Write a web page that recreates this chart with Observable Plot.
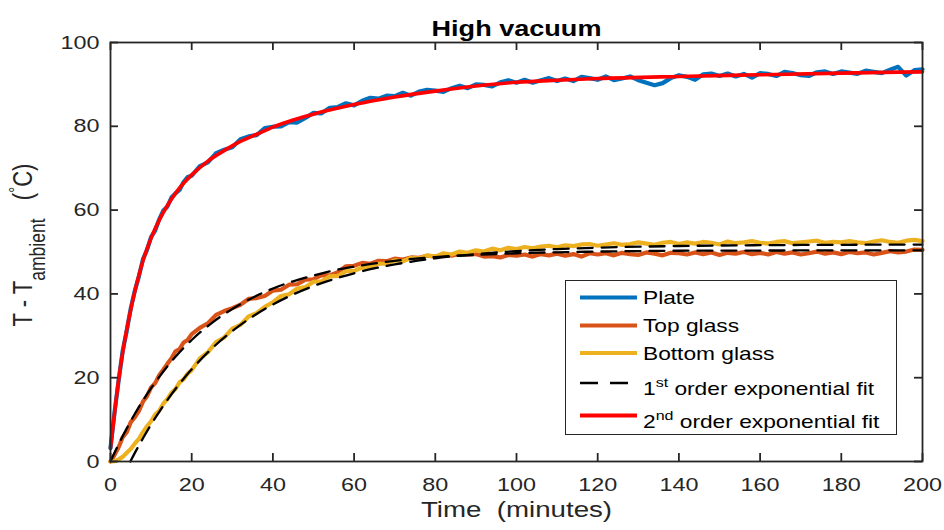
<!DOCTYPE html>
<html><head><meta charset="utf-8">
<script src="https://cdn.jsdelivr.net/npm/d3@7"></script>
<script src="https://cdn.jsdelivr.net/npm/@observablehq/plot@0.6"></script>
<style>body{margin:0;background:#fff;} #chart svg{display:block}</style>
</head><body><div id="chart"></div>
<script>
// ---- data (minutes, T - T_ambient in °C) ----
const time = [0,1,2,3,4,5,6,7,8,9,10,11,12,13,14,15,16,17,18,19,20,
  22,24,26,28,30,32,34,36,38,40,
  42,44,46,48,50,52,54,56,58,60,
  62,64,66,68,70,72,74,76,78,80,
  82,84,86,88,90,92,94,96,98,100,
  102,104,106,108,110,112,114,116,118,120,
  122,124,126,128,130,132,134,136,138,140,
  142,144,146,148,150,152,154,156,158,160,
  162,164,166,168,170,172,174,176,178,180,
  182,184,186,188,190,192,194,196,198,200];

const plate = [3.2,11.8,19.3,26.4,31.2,36.6,40.8,44.2,48.3,50.5,53.6,55.1,57.8,59.9,60.8,63.0,64.0,64.8,66.7,67.9,68.2,
  70.5,71.4,73.6,74.4,75.0,76.9,77.6,77.9,79.6,79.9,
  80.0,81.0,80.9,82.0,83.2,83.1,84.4,84.6,85.5,85.0,
  86.1,86.8,86.6,87.3,87.2,88.0,87.3,88.3,88.7,88.5,
  88.2,89.1,89.7,89.1,90.0,89.9,89.5,90.5,91.0,90.4,
  91.1,90.4,91.0,91.5,90.8,91.4,90.8,91.8,91.5,91.1,
  91.9,91.0,91.4,91.9,91.0,90.4,89.8,90.3,91.5,92.2,
  91.8,91.1,92.4,92.6,92.0,92.6,91.9,92.5,91.6,92.7,
  92.5,92.0,93.0,92.7,92.2,92.0,92.9,93.1,92.5,93.1,
  92.8,92.5,93.3,93.0,92.7,93.5,94.2,92.1,93.4,93.6];

const topGlass = [0.0,1.6,3.4,5.8,7.0,9.4,10.6,12.1,14.3,15.6,17.7,18.7,20.6,21.9,23.3,24.6,26.3,26.8,28.4,29.0,30.4,
  31.9,33.0,35.0,35.9,36.6,37.4,38.8,39.0,39.5,40.8,
  41.0,42.2,42.3,43.4,43.5,44.5,44.4,45.2,46.6,46.7,
  47.4,47.2,47.9,47.8,48.4,48.2,48.7,48.6,49.1,48.9,
  49.3,49.1,49.6,49.4,49.5,48.9,49.0,48.7,49.3,49.1,
  49.4,48.9,49.5,49.2,49.6,49.1,49.5,48.9,49.7,49.4,
  49.7,49.2,49.8,49.5,49.3,49.9,49.6,49.2,49.8,49.7,
  49.4,49.9,49.5,49.9,49.3,49.8,49.6,50.0,49.5,49.8,
  49.4,50.0,49.6,49.9,49.4,49.7,50.1,49.6,49.9,49.5,
  50.0,49.7,49.9,49.4,49.8,50.2,49.9,50.1,50.6,50.5];

const bottomGlass = [0.0,0.1,0.5,1.1,2.1,3.0,4.3,5.4,7.0,8.4,9.6,11.2,12.1,13.8,14.9,16.4,17.3,18.9,19.6,21.0,21.8,
  24.6,26.1,28.5,29.6,31.7,32.6,34.6,35.4,36.9,38.0,
  39.5,39.9,41.3,41.6,42.9,43.0,44.2,44.3,45.4,45.5,
  46.3,46.4,47.2,47.2,48.0,47.8,48.6,48.5,49.2,48.9,
  49.7,49.4,50.1,49.8,50.4,50.1,50.8,50.4,51.0,50.7,
  51.2,50.9,51.3,51.5,51.1,51.6,51.4,51.8,51.9,51.5,
  51.8,52.1,51.7,51.9,52.3,52.0,51.7,52.2,52.4,51.9,
  52.3,52.0,52.4,52.2,51.8,52.5,52.1,52.3,52.6,52.2,
  52.0,52.4,52.6,52.1,52.3,52.5,52.7,52.2,52.4,52.3,
  52.6,52.3,52.1,52.5,52.8,52.4,52.2,52.7,52.9,52.6];

// fitted curves (read at sparse points)
const plateFitTime = [0,1,2,3,4,5,6,8,10,12,14,16,18,20,24,28,32,36,40,45,50,55,60,70,80,90,100,110,120,140,160,180,200];
const plateFit = [3.2,11.5,19.5,26.0,31.5,36.3,40.6,47.9,53.3,57.6,61.1,64.0,66.4,68.4,71.7,74.2,76.4,78.1,79.8,81.5,82.9,84.1,85.2,87.0,88.4,89.6,90.5,91.0,91.4,91.9,92.3,92.7,93.0];
const topFitTime = [0,2,4,6,8,10,12,14,16,18,20,25,30,35,40,45,50,55,60,70,80,90,100,120,140,160,200];
const topFit = [0,4.1,7.9,11.4,14.6,17.5,20.2,22.7,25.0,27.1,29.0,33.1,36.4,39.1,41.3,43.0,44.4,45.6,46.5,47.9,48.8,49.3,49.7,50.1,50.3,50.35,50.4];
const bottomFitTime = [4.9,6,8,10,12,14,16,18,20,25,30,35,40,45,50,55,60,70,80,90,100,110,120,140,160,180,200];
const bottomFit = [0,2.05,5.56,8.83,11.86,14.69,17.31,19.74,22.0,26.99,31.14,34.6,37.48,39.88,41.87,43.53,44.92,47.03,48.49,49.5,50.21,50.70,51.03,51.43,51.62,51.72,51.77];

const xTicks = [0,20,40,60,80,100,120,140,160,180,200];
const yTicks = [0,20,40,60,80,100];
const titleText = "High vacuum";
const xLabelText = "Time  (minutes)";
const seriesNames = ["Plate","Top glass","Bottom glass"];
const seriesColors = ["#0072BD","#D95319","#EDB120"];
const fitColor1 = "#000000", fitColor2 = "#FF0000";

// ---- layout ----
const W = 944, H = 530, mL = 110, mR = 22, mT = 42, mB = 69;
const ink = "#262626";
const FONT = "'Liberation Sans', Arial, Helvetica, sans-serif";
const SX = 1.23; // horizontal glyph stretch of the reference

const rows = (t, v) => t.map((d, i) => ({t: d, v: v[i]}));
const pw = W - mL - mR, ph = H - mT - mB;

const chart = Plot.plot({
  width: W, height: H,
  marginLeft: mL, marginRight: mR, marginTop: mT, marginBottom: mB,
  x: {domain: [0, 200]},
  y: {domain: [0, 100]},
  style: {fontFamily: FONT, color: ink, background: "white", fontSize: "19px", overflow: "visible"},
  marks: [
    Plot.line(rows(time, plate), {x: "t", y: "v", stroke: seriesColors[0], strokeWidth: 4.2, strokeLinejoin: "round"}),
    Plot.line(rows(time, topGlass), {x: "t", y: "v", stroke: seriesColors[1], strokeWidth: 4.2, strokeLinejoin: "round"}),
    Plot.line(rows(time, bottomGlass), {x: "t", y: "v", stroke: seriesColors[2], strokeWidth: 4.2, strokeLinejoin: "round"}),
    Plot.line(rows(topFitTime, topFit), {x: "t", y: "v", stroke: fitColor1, strokeWidth: 2.3, strokeDasharray: "15,9", curve: "monotone-x"}),
    Plot.line(rows(bottomFitTime, bottomFit), {x: "t", y: "v", stroke: fitColor1, strokeWidth: 2.3, strokeDasharray: "15,9", curve: "monotone-x"}),
    Plot.line(rows(plateFitTime, plateFit), {x: "t", y: "v", stroke: fitColor2, strokeWidth: 3.6, curve: "monotone-x"}),
    Plot.frame({stroke: ink, strokeWidth: 1.8}),
    Plot.tickX(xTicks, {x: d => d, stroke: ink, strokeWidth: 1.8, insetTop: ph - 8}),
    Plot.tickX(xTicks, {x: d => d, stroke: ink, strokeWidth: 1.8, insetBottom: ph - 8}),
    Plot.tickY(yTicks, {y: d => d, stroke: ink, strokeWidth: 1.8, insetRight: pw - 8}),
    Plot.tickY(yTicks, {y: d => d, stroke: ink, strokeWidth: 1.8, insetLeft: pw - 8}),
    Plot.axisX(xTicks, {tickSize: 0, tickPadding: 16, fontSize: 19, label: null, fill: ink}),
    Plot.axisY(yTicks, {tickSize: 0, tickPadding: 11, fontSize: 19, label: null, fill: ink}),
    Plot.text([titleText], {frameAnchor: "top", dy: -22, fontSize: 22, fontWeight: "bold", fill: "#000"}),
    Plot.text([xLabelText], {frameAnchor: "bottom", dy: 55, fontSize: 22.5, fill: ink})
  ]
});

// stretch Plot-made text horizontally like the reference
d3.select(chart).selectAll("text").each(function() {
  const tr = this.getAttribute("transform");
  if (tr !== null) this.setAttribute("transform", tr + ` scale(${SX},1)`);
  else {
    const x = +(this.getAttribute("x") || 0), y = +(this.getAttribute("y") || 0);
    this.removeAttribute("x"); this.removeAttribute("y");
    this.setAttribute("transform", `translate(${x},${y}) scale(${SX},1)`);
  }
  this.style.whiteSpace = "pre";
});

const svg = d3.select(chart);

// y-axis label with subscript / superscript
const yl = svg.append("text")
  .attr("transform", `translate(32,245) rotate(-90) scale(1,${SX})`)
  .attr("text-anchor", "middle")
  .attr("font-family", FONT).attr("font-size", 22).attr("fill", ink)
  .style("white-space", "pre");
yl.append("tspan").text("T - T");
yl.append("tspan").attr("font-size", 17.5).attr("dy", 10.5).text("ambient");
yl.append("tspan").attr("dy", -10.5).text("   (");
yl.append("tspan").attr("font-size", 15).attr("dy", -8).text("\u00B0");
yl.append("tspan").attr("dy", 8).text("C)");

// legend
const lg = svg.append("g");
lg.append("rect").attr("x", 565.5).attr("y", 280.5).attr("width", 331).attr("height", 154)
  .attr("fill", "white").attr("stroke", ink).attr("stroke-width", 1);
const legendRows = [
  {y: 297.5, color: seriesColors[0], dash: null, w: 4, parts: [[seriesNames[0]]]},
  {y: 325.5, color: seriesColors[1], dash: null, w: 4, parts: [[seriesNames[1]]]},
  {y: 353, color: seriesColors[2], dash: null, w: 4, parts: [[seriesNames[2]]]},
  {y: 383, color: fitColor1, dash: "18,12", w: 2.3, parts: [["1"], ["st", "sup"], [" order exponential fit"]], ty: 388},
  {y: 415.5, color: fitColor2, dash: null, w: 4, parts: [["2"], ["nd", "sup"], [" order exponential fit"]], ty: 421}
];
legendRows.forEach(r => {
  lg.append("line").attr("x1", 580).attr("x2", 637).attr("y1", r.y).attr("y2", r.y)
    .attr("stroke", r.color).attr("stroke-width", r.w).attr("stroke-dasharray", r.dash);
  const ty = (r.ty || r.y) + 6.5;
  const t = lg.append("text").attr("transform", `translate(643,${ty}) scale(${SX},1)`)
    .attr("text-anchor", "start")
    .attr("font-family", FONT).attr("font-size", 18.5).attr("fill", "#000").style("white-space", "pre");
  let raised = false;
  r.parts.forEach(p => {
    const s = t.append("tspan").text(p[0]);
    if (p[1] === "sup") { s.attr("font-size", 13).attr("dy", -8); raised = true; }
    else if (raised) { s.attr("dy", 8); raised = false; }
  });
});

document.getElementById("chart").appendChild(chart);
</script>
</body></html>
